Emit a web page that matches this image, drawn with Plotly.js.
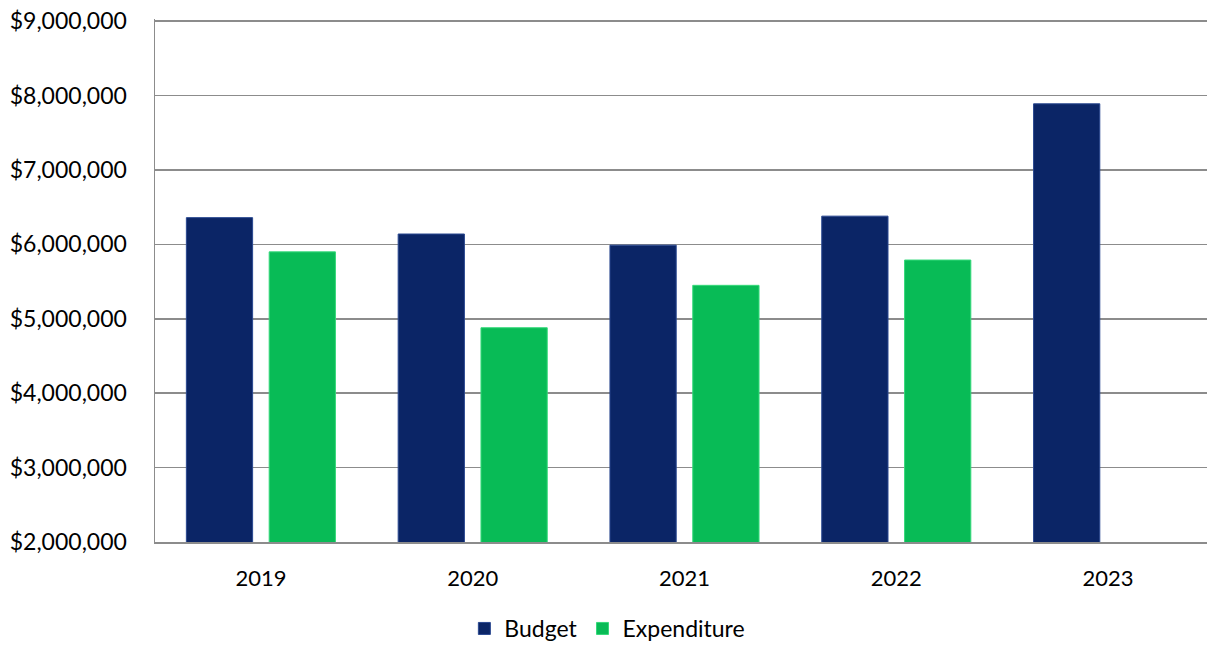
<!DOCTYPE html>
<html>
<head>
<meta charset="utf-8">
<script src="https://cdn.plot.ly/plotly-3.0.1.min.js"></script>
<style>html,body{margin:0;padding:0;background:#fff;}#chart{width:1207px;height:650px;}</style>
</head>
<body>
<div id="chart"></div>
<script>
const years = ["2019", "2020", "2021", "2022", "2023"];
const budget = [6360000, 6140000, 5990000, 6380000, 7890000];
const expenditure = [5900000, 4880000, 5450000, 5790000, null];
const yTickVals = [2000000, 3000000, 4000000, 5000000, 6000000, 7000000, 8000000, 9000000];
const yTickText = ["$2,000,000", "$3,000,000", "$4,000,000", "$5,000,000", "$6,000,000", "$7,000,000", "$8,000,000", "$9,000,000"];

const font = "Lato, 'Open Sans', sans-serif";
const data = [
  {type: "bar", name: "Budget", x: years, y: budget,
   marker: {color: "#0b2566", line: {color: "#2a4890", width: 1}}},
  {type: "bar", name: "Expenditure", x: years, y: expenditure,
   marker: {color: "#08bb56", line: {color: "#35d97a", width: 1}}}
];
const layout = {
  width: 1207, height: 650,
  margin: {l: 155, r: 0, t: 19, b: 105},
  paper_bgcolor: "#fff", plot_bgcolor: "#fff",
  barmode: "group", bargap: 0.218, bargroupgap: 0.2,
  font: {family: font, size: 22, color: "#000"},
  xaxis: {type: "category", range: [-0.5, 4.467], showgrid: false, showline: true,
          linecolor: "#8c8c8c", linewidth: 1.5, ticks: "", ticklabelstandoff: 16,
          tickfont: {family: font, size: 22, color: "#000"}, fixedrange: true},
  yaxis: {range: [2000000, 9030000], tickvals: yTickVals, ticktext: yTickText,
          showgrid: true, gridcolor: "#8c8c8c", gridwidth: 1.5, showline: true,
          linecolor: "#8c8c8c", linewidth: 1.5, zeroline: false, ticks: "",
          ticklabelstandoff: 22,
          tickfont: {family: font, size: 23, color: "#000"}},
  legend: {orientation: "h", x: 0.43, xref: "paper", xanchor: "center", y: -0.125, yanchor: "top",
           font: {family: font, size: 23, color: "#000"}, itemwidth: 30, tracegroupgap: 0},
  showlegend: true
};
Plotly.newPlot("chart", data, layout, {displayModeBar: false, staticPlot: true});
</script>
</body>
</html>
